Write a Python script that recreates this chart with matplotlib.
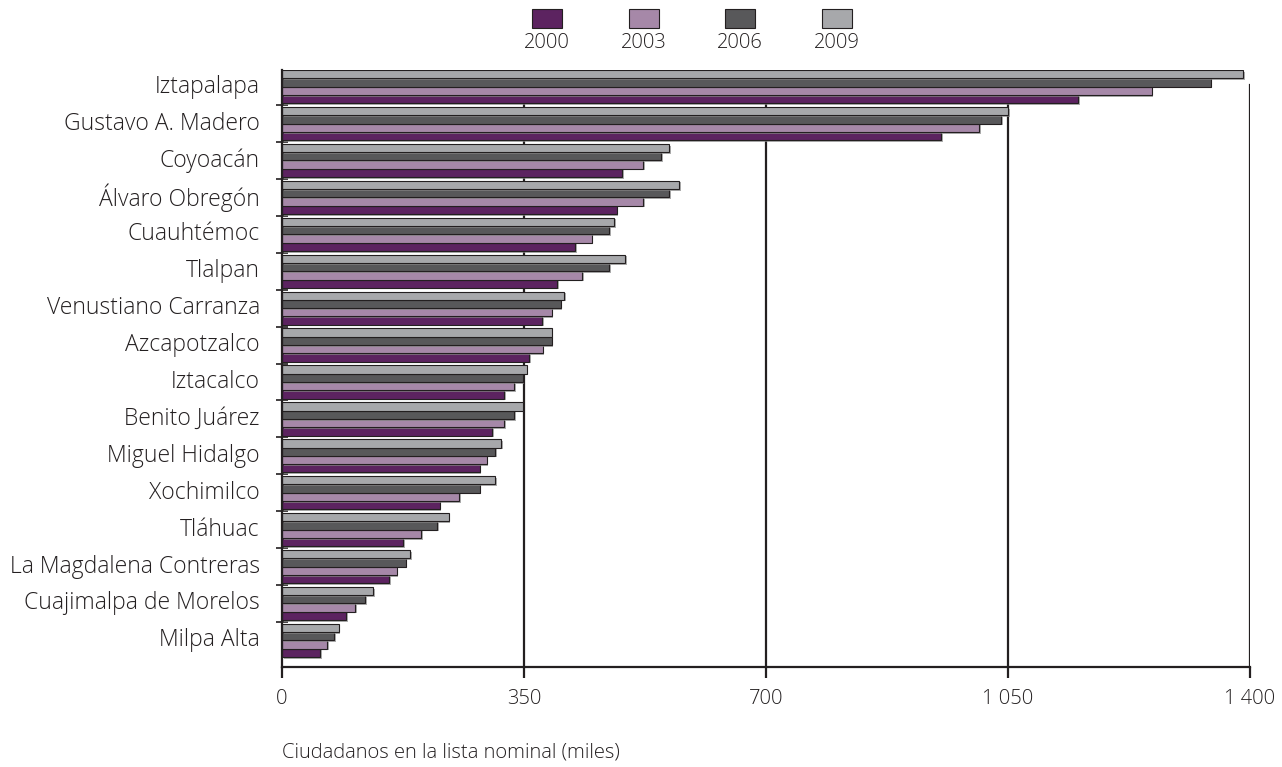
import numpy as np
import matplotlib
matplotlib.use("Agg")
import matplotlib.pyplot as plt
import matplotlib.patheffects as pe
from matplotlib.patches import Rectangle

# Datos (miles de ciudadanos en la lista nominal)
delegaciones = ["Iztapalapa", "Gustavo A. Madero", "Coyoacán", "Álvaro Obregón",
                "Cuauhtémoc", "Tlalpan", "Venustiano Carranza", "Azcapotzalco",
                "Iztacalco", "Benito Juárez", "Miguel Hidalgo", "Xochimilco",
                "Tláhuac", "La Magdalena Contreras", "Cuajimalpa de Morelos", "Milpa Alta"]
anios = ["2000", "2003", "2006", "2009"]
v2000 = [1151, 953, 492, 484, 424, 398, 376, 357, 321, 304, 286, 228, 175, 155, 93, 55]
v2003 = [1258, 1008, 522, 522, 448, 434, 390, 377, 336, 321, 296, 256, 201, 166, 106, 65]
v2006 = [1343, 1040, 548, 560, 473, 473, 403, 390, 348, 336, 308, 286, 224, 179, 120, 75]
v2009 = [1390, 1050, 560, 574, 480, 496, 408, 390, 354, 348, 317, 308, 241, 185, 132, 82]
colores = ["#5c2360", "#a688a8", "#58585a", "#a7a8ab"]
xticks = [0, 350, 700, 1050, 1400]
xticklabels = ["0", "350", "700", "1 050", "1 400"]

texto = "#231f20"
plt.rcParams['font.family'] = ['Open Sans', 'DejaVu Sans']
plt.rcParams['font.weight'] = 'light'

fig = plt.figure(figsize=(12.82, 7.67), dpi=100)
ax = fig.add_axes([282 / 1282, 1 - 667 / 767, 968 / 1282, 597 / 767])

y = np.arange(len(delegaciones))
alto = 0.225
series = [v2000, v2003, v2006, v2009]
offsets = [0.3375, 0.1125, -0.1125, -0.3375]
sombra = [pe.SimplePatchShadow(offset=(1.2, -1.2), shadow_rgbFace="#8a8a8a", alpha=0.7), pe.Normal()]

# lineas verticales de referencia detras de las barras
for x in xticks[1:]:
    ax.axvline(x, ymin=0, ymax=0.975, color=texto, lw=1.6, zorder=1)

for vals, off, col in zip(series, offsets, colores):
    bars = ax.barh(y + off, vals, height=alto, color=col, edgecolor=texto, linewidth=0.8, zorder=2)
    for b in bars:
        b.set_path_effects(sombra)

ax.set_xlim(0, 1400)
ax.set_ylim(15.72, -0.45)

for s in ["top", "right"]:
    ax.spines[s].set_visible(False)
for s in ["left", "bottom"]:
    ax.spines[s].set_color(texto)
    ax.spines[s].set_linewidth(1.6)

ax.set_xticks(xticks)
ax.set_xticklabels(xticklabels, fontsize=14.5, color=texto)
ax.tick_params(axis="x", direction="out", length=8, width=1.6, color=texto, pad=8)

# marcas entre grupos, nombres en el centro de cada grupo
ax.set_yticks(y[:-1] + 0.5)
ax.set_yticklabels([])
ax.set_yticks(y, minor=True)
ax.set_yticklabels(delegaciones, minor=True, fontsize=16.5, color=texto, va="center")
ax.tick_params(axis="y", which="major", direction="inout", length=9, width=1.2, color=texto)
ax.tick_params(axis="y", which="minor", length=0, pad=16)

fig.text(282 / 1282, 1 - 753 / 767, "Ciudadanos en la lista nominal (miles)",
         fontsize=14.5, color=texto, ha="left", va="center")

# Leyenda manual: cuadro arriba, año abajo
for i, (anio, col) in enumerate(zip(anios, colores)):
    cx = 547 + i * 96.5
    fig.patches.append(Rectangle(((cx - 15) / 1282, 1 - 28 / 767), 30 / 1282, 19 / 767,
                                 transform=fig.transFigure, facecolor=col,
                                 edgecolor=texto, linewidth=0.8))
    fig.text(cx / 1282, 1 - 43 / 767, anio, fontsize=14.5, color=texto, ha="center", va="center")

fig.savefig("out.png", dpi=100)
